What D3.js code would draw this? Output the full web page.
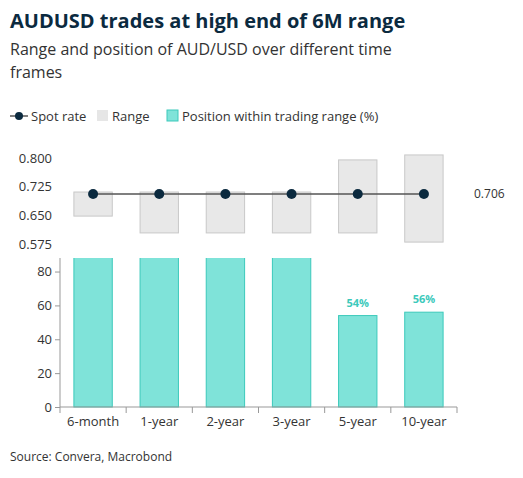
<!DOCTYPE html><html><head><meta charset="utf-8">
<script src="https://cdn.jsdelivr.net/npm/d3@7"></script>
<style>body{margin:0;background:#fff;font-family:"Open Sans",sans-serif}</style></head><body>
<svg id="c" width="523" height="478"></svg>
<script>
const categories=["6-month","1-year","2-year","3-year","5-year","10-year"];
const rangeLow=[0.648,0.604,0.604,0.604,0.604,0.580];
const rangeHigh=[0.711,0.711,0.711,0.711,0.795,0.808];
const spot=[0.706,0.706,0.706,0.706,0.706,0.706];
const position=[100,100,100,100,54,56];
const positionLabels=["","","","","54%","56%"];
const topTicks=[0.575,0.650,0.725,0.800];
const botTicks=[0,20,40,60,80];
const svg=d3.select("#c");
const dark="#0b2a3f",teal="#7fe3d9",tealS="#3cc9bb";
svg.append("text").attr("x",10).attr("y",28).attr("font-size",20).attr("font-weight",700).attr("fill","#0b2a3f").text("AUDUSD trades at high end of 6M range");
svg.append("text").attr("x",10).attr("y",55).attr("font-size",16).attr("fill","#333").text("Range and position of AUD/USD over different time");
svg.append("text").attr("x",10).attr("y",78).attr("font-size",16).attr("fill","#333").text("frames");
// legend
const lg=svg.append("g").attr("font-size",13).attr("fill","#333");
lg.append("line").attr("x1",10).attr("x2",28).attr("y1",116).attr("y2",116).attr("stroke","#555").attr("stroke-width",1.5);
lg.append("circle").attr("cx",19).attr("cy",116).attr("r",4).attr("fill",dark);
lg.append("text").attr("x",31).attr("y",121).text("Spot rate");
lg.append("rect").attr("x",97).attr("y",110).attr("width",11).attr("height",11).attr("fill","#e6e6e6");
lg.append("text").attr("x",112).attr("y",121).text("Range");
lg.append("rect").attr("x",167).attr("y",110).attr("width",11).attr("height",11).attr("fill",teal).attr("stroke",tealS);
lg.append("text").attr("x",182).attr("y",121).text("Position within trading range (%)");
const x=d3.scaleBand().domain(categories).range([60,457]).paddingInner(0.42).paddingOuter(0.21);
const yT=d3.scaleLinear().domain([0.575,0.800]).range([244,158]);
const yB=d3.scaleLinear().domain([0,88]).range([407,258]);
// top
const gt=svg.append("g");
gt.selectAll("rect").data(categories).join("rect").attr("x",d=>x(d)).attr("width",x.bandwidth())
 .attr("y",(d,i)=>yT(rangeHigh[i])).attr("height",(d,i)=>yT(rangeLow[i])-yT(rangeHigh[i]))
 .attr("fill","#e8e8e8").attr("stroke","#c8c8c8");
const line=d3.line().x((d,i)=>x(categories[i])+x.bandwidth()/2).y(d=>yT(d));
gt.append("path").attr("d",line(spot)).attr("fill","none").attr("stroke","#555").attr("stroke-width",1.5);
gt.selectAll("circle").data(spot).join("circle").attr("cx",(d,i)=>x(categories[i])+x.bandwidth()/2).attr("cy",d=>yT(d)).attr("r",5).attr("fill",dark);
gt.append("text").attr("x",474).attr("y",yT(spot[5])+4).attr("font-size",12).attr("fill","#333").text(spot[5].toFixed(3));
const at=svg.append("g").attr("transform","translate(60,0)").call(d3.axisLeft(yT).tickValues(topTicks).tickFormat(d3.format(".3f")).tickSize(0).tickPadding(8));
at.select(".domain").remove();at.selectAll("text").attr("font-size",13).attr("fill","#333").attr("font-family","Open Sans");
// bottom
const cp=svg.append("clipPath").attr("id","cl").append("rect").attr("x",0).attr("y",258).attr("width",523).attr("height",160);
const gb=svg.append("g").attr("clip-path","url(#cl)");
gb.selectAll("rect").data(position).join("rect").attr("x",(d,i)=>x(categories[i])).attr("width",x.bandwidth())
 .attr("y",d=>yB(d)).attr("height",d=>yB(0)-yB(d)).attr("fill",teal).attr("stroke",tealS);
svg.selectAll(".pl").data(positionLabels).join("text").attr("x",(d,i)=>x(categories[i])+x.bandwidth()/2).attr("y",(d,i)=>yB(position[i])-9)
 .attr("text-anchor","middle").attr("font-size",11).attr("font-weight",700).attr("fill",tealS).text(d=>d);
const ab=svg.append("g").attr("transform","translate(60,0)").call(d3.axisLeft(yB).tickValues(botTicks).tickSize(5));
ab.select(".domain").attr("d","M0,258V407").attr("stroke","#999");ab.selectAll("line").attr("stroke","#999");
ab.selectAll("text").attr("font-size",13).attr("fill","#333").attr("font-family","Open Sans");
const ax=svg.append("g").attr("transform","translate(0,407)").call(d3.axisBottom(x).tickSize(0).tickPadding(10));
ax.select(".domain").attr("d","M60,0H457").attr("stroke","#999");
ax.selectAll("text").attr("font-size",13).attr("fill","#333").attr("font-family","Open Sans");
const bounds=categories.map(c=>x(c)-x.step()*x.paddingInner()/2).concat([457]);
svg.selectAll(".bt").data(bounds).join("line").attr("x1",d=>d).attr("x2",d=>d).attr("y1",407).attr("y2",413).attr("stroke","#999");
svg.append("text").attr("x",10).attr("y",461).attr("font-size",12).attr("fill","#333").text("Source: Convera, Macrobond");
</script></body></html>
